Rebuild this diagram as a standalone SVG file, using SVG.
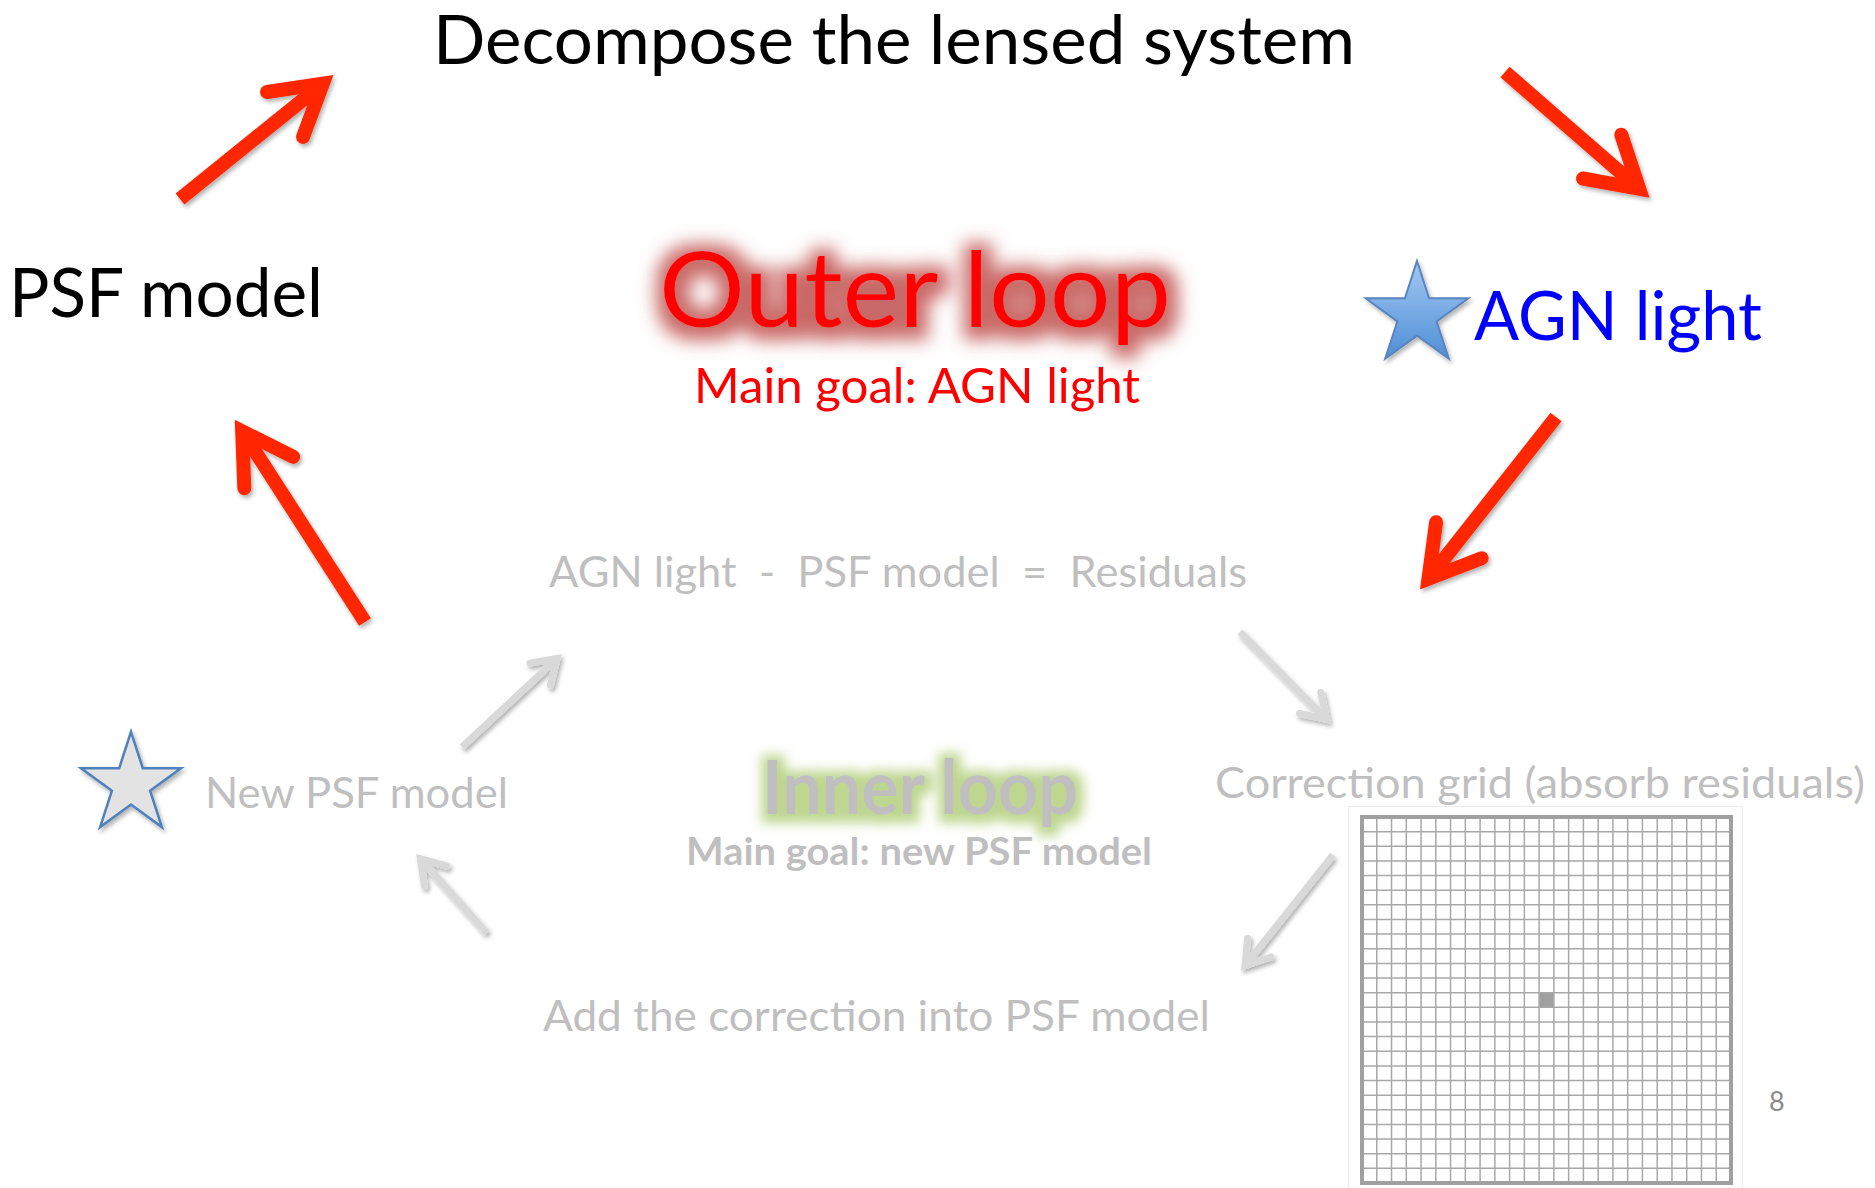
<svg xmlns="http://www.w3.org/2000/svg" width="1875" height="1188" viewBox="0 0 1875 1188">
  <defs>
    <style>
      .big { font-family: Lato, "Open Sans", "Liberation Sans", sans-serif; font-size: 67px; }
      .gray { font-family: Lato, "Open Sans", "Liberation Sans", sans-serif; font-size: 43px; fill: #BFBFBF; }
      .red-arrow { fill: none; stroke: #FF2600; stroke-width: 14; }
      .gray-arrow { fill: none; stroke: #D9D9D9; stroke-width: 7; }
      .shaft { stroke-linecap: butt; }
      .head { stroke-linecap: round; stroke-linejoin: miter; stroke-miterlimit: 6; }
      .gridline { fill: none; stroke: #A8A8A8; stroke-width: 1.5; }
    </style>
    <filter id="shadow" x="-20%" y="-20%" width="150%" height="150%">
      <feDropShadow dx="2" dy="3" stdDeviation="2" flood-color="#000000" flood-opacity="0.3"/>
    </filter>
    <filter id="glowRed" x="-20%" y="-60%" width="140%" height="220%">
      <feMorphology in="SourceAlpha" operator="dilate" radius="10" result="d"/>
      <feGaussianBlur in="d" stdDeviation="9" result="b"/>
      <feOffset in="b" dx="2" dy="3" result="bo"/>
      <feFlood flood-color="#C0504D" flood-opacity="0.85"/>
      <feComposite in2="bo" operator="in" result="g"/>
      <feMerge><feMergeNode in="g"/><feMergeNode in="SourceGraphic"/></feMerge>
    </filter>
    <filter id="glowGreen" x="-20%" y="-60%" width="140%" height="220%">
      <feMorphology in="SourceAlpha" operator="dilate" radius="7" result="d"/>
      <feGaussianBlur in="d" stdDeviation="6" result="b"/>
      <feOffset in="b" dx="1" dy="2" result="bo"/>
      <feFlood flood-color="#A9C86A" flood-opacity="0.75"/>
      <feComposite in2="bo" operator="in" result="g"/>
      <feMerge><feMergeNode in="g"/><feMergeNode in="SourceGraphic"/></feMerge>
    </filter>
    <linearGradient id="blueStar" x1="0" y1="0" x2="0" y2="1">
      <stop offset="0" stop-color="#A3C8F2"/>
      <stop offset="1" stop-color="#4F8FD7"/>
    </linearGradient>
  </defs>

  <rect x="0" y="0" width="1875" height="1188" fill="#FFFFFF"/>

  <g id="n-decompose">
    <text class="big" x="433" y="64" font-size="65" textLength="922" lengthAdjust="spacingAndGlyphs" fill="#000000">Decompose the lensed system</text>
  </g>

  <g id="n-psf-model">
    <text class="big" x="9" y="317" textLength="314" lengthAdjust="spacingAndGlyphs" fill="#000000">PSF model</text>
  </g>

  <g id="n-agn-light">
    <polygon filter="url(#shadow)" fill="url(#blueStar)" stroke="#5A84BE" stroke-width="2" points="1417,261 1429.1,298.3 1468.4,298.3 1436.6,321.4 1448.8,358.7 1417,335.6 1385.2,358.7 1397.4,321.4 1365.6,298.3 1404.9,298.3"/>
    <text class="big" x="1474" y="340" textLength="288" lengthAdjust="spacingAndGlyphs" fill="#0000FF">AGN light</text>
  </g>

  <g id="n-outer-loop">
    <text x="659" y="327" filter="url(#glowRed)" font-family="Lato, 'Open Sans', 'Liberation Sans', sans-serif" font-size="104" fill="#FF0000" textLength="512" lengthAdjust="spacingAndGlyphs">Outer loop</text>
    <text x="694" y="403" font-family="Lato, 'Open Sans', 'Liberation Sans', sans-serif" font-size="48" fill="#FF0000" textLength="446" lengthAdjust="spacingAndGlyphs">Main goal: AGN light</text>
  </g>

  <g id="n-residuals">
    <text class="gray" x="549" y="587" xml:space="preserve" textLength="698" lengthAdjust="spacingAndGlyphs">AGN light  -  PSF model  =  Residuals</text>
  </g>

  <g id="n-new-psf">
    <polygon filter="url(#shadow)" fill="#E3E3E3" stroke="#4F81BD" stroke-width="2.5" points="131,731.9 142.8,768.2 181,768.2 150.1,790.7 161.9,827.1 131,804.6 100.1,827.1 111.9,790.7 81,768.2 119.2,768.2"/>
    <text class="gray" x="205" y="808" textLength="303" lengthAdjust="spacingAndGlyphs">New PSF model</text>
  </g>

  <g id="n-inner-loop">
    <text x="762" y="814" filter="url(#glowGreen)" font-family="Lato, 'Open Sans', 'Liberation Sans', sans-serif" font-weight="bold" font-size="74" fill="#BFBFBF" textLength="316" lengthAdjust="spacingAndGlyphs">Inner loop</text>
    <text x="686" y="865" font-family="Lato, 'Open Sans', 'Liberation Sans', sans-serif" font-weight="bold" font-size="38" fill="#BFBFBF" textLength="466" lengthAdjust="spacingAndGlyphs">Main goal: new PSF model</text>
  </g>

  <g id="n-correction-grid">
    <text class="gray" x="1215" y="798" textLength="650" lengthAdjust="spacingAndGlyphs">Correction grid (absorb residuals)</text>
    <rect x="1348.5" y="806.5" width="394" height="392" fill="#FFFFFF" stroke="#EBEBEB" stroke-width="1"/>
    <rect x="1539.12" y="992.68" width="14.76" height="14.64" fill="#A0A0A0"/>
    <path class="gridline" d="M1376.76 817V1183M1391.52 817V1183M1406.28 817V1183M1421.04 817V1183M1435.8 817V1183M1450.56 817V1183M1465.32 817V1183M1480.08 817V1183M1494.84 817V1183M1509.6 817V1183M1524.36 817V1183M1539.12 817V1183M1553.88 817V1183M1568.64 817V1183M1583.4 817V1183M1598.16 817V1183M1612.92 817V1183M1627.68 817V1183M1642.44 817V1183M1657.2 817V1183M1671.96 817V1183M1686.72 817V1183M1701.48 817V1183M1716.24 817V1183M1362 831.64H1731M1362 846.28H1731M1362 860.92H1731M1362 875.56H1731M1362 890.2H1731M1362 904.84H1731M1362 919.48H1731M1362 934.12H1731M1362 948.76H1731M1362 963.4H1731M1362 978.04H1731M1362 992.68H1731M1362 1007.32H1731M1362 1021.96H1731M1362 1036.6H1731M1362 1051.24H1731M1362 1065.88H1731M1362 1080.52H1731M1362 1095.16H1731M1362 1109.8H1731M1362 1124.44H1731M1362 1139.08H1731M1362 1153.72H1731M1362 1168.36H1731"/>
    <rect x="1362" y="817" width="369" height="366" fill="none" stroke="#A0A0A0" stroke-width="4"/>
  </g>

  <g id="n-add-correction">
    <text class="gray" x="543" y="1031" textLength="667" lengthAdjust="spacingAndGlyphs">Add the correction into PSF model</text>
  </g>

  <g id="page-number">
    <text x="1769" y="1111" font-family="Lato, 'Open Sans', 'Liberation Sans', sans-serif" font-size="27" fill="#8C8C8C">8</text>
  </g>

  <g id="connectors">
    <g filter="url(#shadow)">
      <line class="red-arrow shaft" x1="180" y1="199" x2="322.8" y2="83.7"/>
      <polyline class="red-arrow head" points="267,92 322.8,83.7 303,137"/>
    </g>
    <g filter="url(#shadow)">
      <line class="red-arrow shaft" x1="1505" y1="72" x2="1639.2" y2="188.8"/>
      <polyline class="red-arrow head" points="1583,178.5 1639.2,188.8 1621.3,134.7"/>
    </g>
    <g filter="url(#shadow)">
      <line class="red-arrow shaft" x1="1556" y1="417" x2="1428.5" y2="578.7"/>
      <polyline class="red-arrow head" points="1481.7,558.2 1428.5,578.7 1436.1,522.2"/>
    </g>
    <g filter="url(#shadow)">
      <line class="red-arrow shaft" x1="365" y1="622" x2="242.2" y2="431.3"/>
      <polyline class="red-arrow head" points="293.1,456.8 242.2,431.3 244.3,488.2"/>
    </g>
    <g filter="url(#shadow)">
      <line class="gray-arrow shaft" x1="462" y1="747" x2="557.1" y2="658.4"/>
      <polyline class="gray-arrow head" points="530.1,663.1 557.1,658.4 550.5,685.1"/>
    </g>
    <g filter="url(#shadow)">
      <line class="gray-arrow shaft" x1="1240" y1="632" x2="1326.4" y2="719.3"/>
      <polyline class="gray-arrow head" points="1299.5,713.5 1326.4,719.3 1320.9,692.5"/>
    </g>
    <g filter="url(#shadow)">
      <line class="gray-arrow shaft" x1="1333" y1="855" x2="1245" y2="965.7"/>
      <polyline class="gray-arrow head" points="1271,957 1245,965.7 1247.6,938.4"/>
    </g>
    <g filter="url(#shadow)">
      <line class="gray-arrow shaft" x1="487" y1="933" x2="420.4" y2="858.9"/>
      <polyline class="gray-arrow head" points="446.8,866 420.4,858.9 424.6,886"/>
    </g>
  </g>
</svg>
